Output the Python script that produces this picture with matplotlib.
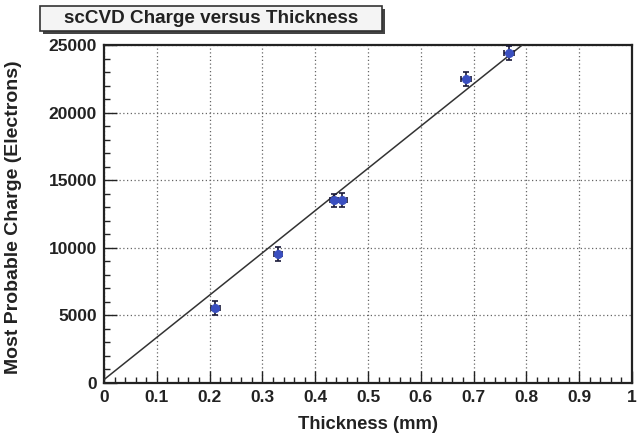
import matplotlib
matplotlib.use("Agg")
import matplotlib.pyplot as plt
from matplotlib.patches import Rectangle
from matplotlib.ticker import MultipleLocator, FuncFormatter
import numpy as np

# ---- data ----
thickness = [0.211, 0.330, 0.436, 0.451, 0.686, 0.767]       # mm
charge = [5550, 9550, 13500, 13550, 22500, 24400]              # electrons
thickness_err = [0.008, 0.008, 0.008, 0.010, 0.010, 0.010]
charge_err = [500, 500, 500, 500, 500, 500]
fit_slope = 31250.0      # electrons per mm
fit_intercept = 250.0    # electrons
title = "scCVD Charge versus Thickness"
xlabel = "Thickness (mm)"
ylabel = "Most Probable Charge (Electrons)"
x_ticks = [0, 0.1, 0.2, 0.3, 0.4, 0.5, 0.6, 0.7, 0.8, 0.9, 1]
y_ticks = [0, 5000, 10000, 15000, 20000, 25000]

plt.rcParams['font.family'] = ['Liberation Sans', 'DejaVu Sans']

fig = plt.figure(figsize=(6.41, 4.38), dpi=100)
ax = fig.add_axes([104/641, 1-383/438, (632-104)/641, (383-45)/438])

ax.set_xlim(0, 1)
ax.set_ylim(0, 25000)

# grid
ax.grid(True, which='major', linestyle=(0, (1, 2)), color='#666666', linewidth=0.9)
ax.set_axisbelow(True)

# fit line
x_end = (25000 - fit_intercept) / fit_slope
xf = np.array([0.0, x_end])
ax.plot(xf, fit_intercept + fit_slope * xf, color='#333333', linewidth=1.1, zorder=3)

# points
ax.errorbar(thickness, charge, xerr=thickness_err, yerr=charge_err, fmt='o',
            color='#3a4fc0', markersize=5.5, ecolor='#1a1a3a', elinewidth=1.2,
            capsize=2, capthick=1.2, zorder=4)

# ticks
ax.set_xticks(x_ticks)
ax.set_yticks(y_ticks)
ax.xaxis.set_minor_locator(MultipleLocator(0.02))
ax.yaxis.set_minor_locator(MultipleLocator(1000))
ax.xaxis.set_major_formatter(FuncFormatter(lambda v, p: "%g" % round(v, 2)))
ax.tick_params(which='both', direction='in', top=False, right=False, width=1.0, color='#222222')
ax.tick_params(which='major', length=9, labelsize=12.5, pad=5)
ax.tick_params(which='minor', length=4.5)
for lab in ax.get_xticklabels() + ax.get_yticklabels():
    lab.set_fontweight('bold')
    lab.set_color('#222222')

for s in ax.spines.values():
    s.set_linewidth(1.6)
    s.set_color('#222222')

ax.set_xlabel(xlabel, fontsize=13.2, fontweight='bold', color='#222222', labelpad=8)
ax.set_ylabel(ylabel, fontsize=14, fontweight='bold', color='#222222', labelpad=12)
ax.yaxis.set_label_coords(-0.155, 0.49)

# title box with shadow
W, H = 641, 438
bx0, by0, bw, bh = 40, 6, 342, 25
fig.patches.append(Rectangle(((bx0+3)/W, 1-(by0+bh+3)/H), bw/W, bh/H,
                             transform=fig.transFigure, facecolor='#444444',
                             edgecolor='none', zorder=1))
fig.patches.append(Rectangle((bx0/W, 1-(by0+bh)/H), bw/W, bh/H,
                             transform=fig.transFigure, facecolor='#f4f4f4',
                             edgecolor='#333333', linewidth=1.2, zorder=2))
fig.text((bx0+bw/2)/W, 1-(by0+bh/2)/H, title, ha='center', va='center',
         fontsize=13.6, fontweight='bold', color='#222222', zorder=3)

fig.savefig("out.png", dpi=100)
